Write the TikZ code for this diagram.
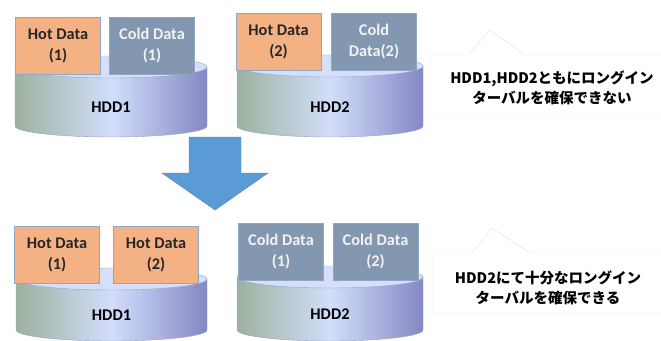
\documentclass[tikz,border=0pt]{standalone}
\usepackage{fontspec}
\setmainfont{Carlito}
\newfontfamily\jpfont{Noto Sans CJK JP}
\usepackage{tikz}
\definecolor{cHot}{HTML}{F4B183}
\definecolor{cCold}{HTML}{8497B0}
\definecolor{cEdge}{HTML}{8FA6C6}
\definecolor{cTop}{HTML}{D5DFFA}
\definecolor{cSideL}{HTML}{9DB19E}
\definecolor{cSideM}{HTML}{D2DEFB}
\definecolor{cSideR}{HTML}{8487C4}
\definecolor{cArrow}{HTML}{5B9BD5}
\definecolor{cNote}{HTML}{E2E2E2}
\usetikzlibrary{calc}

\tikzset{
  datbox/.style={draw=cEdge, line width=0.8pt, minimum width=85, minimum height=57,
    inner sep=0pt, align=center, font=\bfseries\fontsize{16.3}{21}\selectfont},
  hotbox/.style={datbox, fill=cHot, text=black!85},
  coldbox/.style={datbox, fill=cCold, text=white!95!black},
  notetext/.style={align=center, font=\jpfont\bfseries\fontsize{14.5}{20}\selectfont},
}

% cylinder: cx, top y, bottom y, x radius, name, label
\newcommand{\hdd}[6]{%
  \shade[left color=cSideL, right color=cSideR, middle color=cSideM, draw=cEdge]
    (#1-#4,#2) -- (#1-#4,#3)
    arc[start angle=180, end angle=360, x radius=#4pt, y radius=11pt]
    -- (#1+#4,#2) -- cycle;
  \draw[fill=cTop, draw=cEdge] (#1,#2) ellipse [x radius=#4pt, y radius=11pt];
  \node[font=\bfseries\fontsize{16.3}{18}\selectfont] (#5) at (#1,{(#2+#3)/2+11}) {#6};
}

\begin{document}
\begin{tikzpicture}[x=1pt, y=-1pt]
  \useasboundingbox (0,0) rectangle (661,340);

  % before
  \hdd{111}{67}{126}{96}{hddA}{HDD1}
  \hdd{330}{66}{126}{93}{hddB}{HDD2}
  \node[hotbox] (hotA) at (58,45.5) {Hot Data\\(1)};
  \node[coldbox] (coldA) at (152,45.5) {Cold Data\\(1)};
  \node[hotbox] (hotB) at (278.5,41.5) {Hot Data\\(2)};
  \node[coldbox] (coldB) at (374,41.5) {Cold\\Data(2)};

  \draw[draw=cNote, fill=white] (430,55) -- (468,55) -- (490,30) -- (525,55) -- (665,55)
    -- (665,117) -- (430,117) -- cycle;
  \node[notetext] (noteA) at (552,88) {HDD1,HDD2ともにロングイン\\ターバルを確保できない};

  % arrow
  \draw[fill=cArrow, draw=cArrow!85!black] (189,137) -- (241,137) -- (241,173) -- (268,173)
    -- (215,210) -- (162,173) -- (189,173) -- cycle;

  % after
  \hdd{111.5}{279}{330}{95.5}{hddC}{HDD1}
  \hdd{330}{277}{330}{93}{hddD}{HDD2}
  \node[hotbox] (hotC) at (57,254.5) {Hot Data\\(1)};
  \node[hotbox] (hotD) at (156,254.5) {Hot Data\\(2)};
  \node[coldbox] (coldC) at (281,252) {Cold Data\\(1)};
  \node[coldbox] (coldD) at (375.5,252) {Cold Data\\(2)};

  \draw[draw=cNote, fill=white] (433,253) -- (472,253) -- (492,228) -- (530,253) -- (665,253)
    -- (665,313) -- (433,313) -- cycle;
  \node[notetext] (noteB) at (548,288) {HDD2にて十分なロングイン\\ターバルを確保できる};
\end{tikzpicture}
\end{document}
